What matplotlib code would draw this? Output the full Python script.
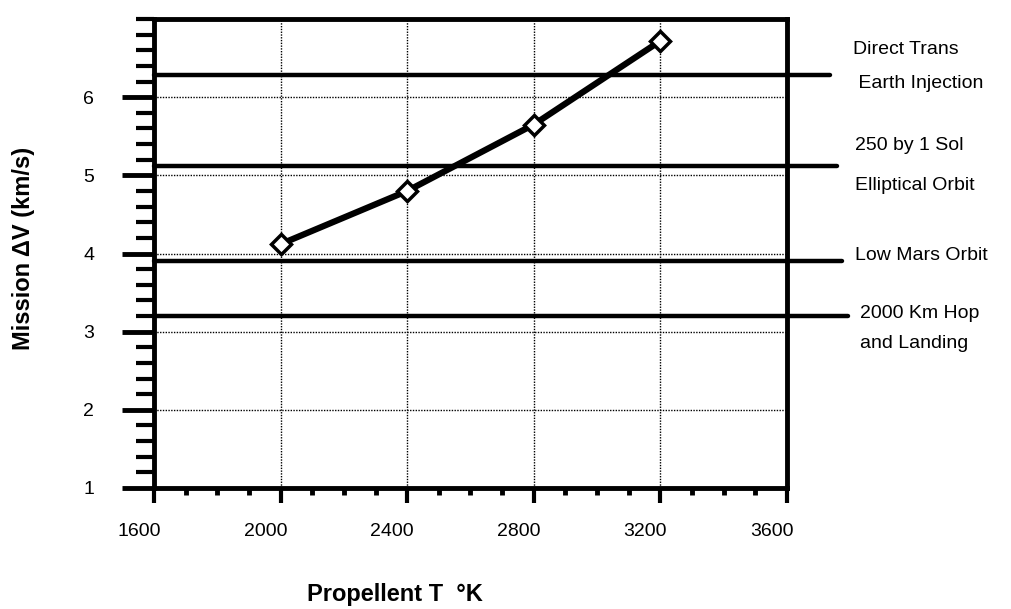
import matplotlib
matplotlib.use("Agg")
import matplotlib.pyplot as plt
from matplotlib.ticker import MultipleLocator
from matplotlib.transforms import ScaledTranslation

plt.rcParams['font.family'] = ['Liberation Sans', 'DejaVu Sans']

temps = [2000, 2400, 2800, 3200]
delta_v = [4.12, 4.80, 5.65, 6.72]

ref_values = [6.28, 5.12, 3.90, 3.20]
ref_labels = ["Direct Trans\n Earth Injection", "250 by 1 Sol\nElliptical Orbit",
              "Low Mars Orbit", "2000 Km Hop\nand Landing"]
ref_ends = [3735, 3757, 3773, 3792]

x_ticks = [1600, 2000, 2400, 2800, 3200, 3600]
y_ticks = [1, 2, 3, 4, 5, 6]

fig = plt.figure(figsize=(10.11, 6.09), dpi=100)
ax = fig.add_axes([154/1011, 1-488/609, (787-154)/1011, (488-19)/609])
ax.set_xlim(1600, 3600)
ax.set_ylim(1, 7)

ax.grid(True, which='major', color='black', linestyle=(0, (1, 1)), linewidth=1.0)
ax.set_axisbelow(True)

for v, end in zip(ref_values, ref_ends):
    ax.plot([1600, end], [v, v], color='black', linewidth=3.2, clip_on=False,
            solid_capstyle='round', zorder=3)

ax.plot(temps, delta_v, color='black', linewidth=4.5, zorder=4, marker='D',
        markersize=10, markerfacecolor='white', markeredgecolor='black',
        markeredgewidth=2.5)

label_pos = [(853, 50, 83), (855, 146, 185), (855, 256, None), (860, 313, 344)]
for (lbl, (px, py1, py2)) in zip(ref_labels, label_pos):
    lines = lbl.split("\n")
    fig.text(px/1011, 1-py1/609, lines[0], fontsize=14, ha='left', va='center')
    if py2 is not None:
        fig.text(px/1011, 1-py2/609, lines[1], fontsize=14, ha='left', va='center')

ax.set_xticks(x_ticks)
ax.set_yticks(y_ticks)
ax.xaxis.set_minor_locator(MultipleLocator(100))
ax.yaxis.set_minor_locator(MultipleLocator(0.2))
ax.tick_params(axis='x', which='major', direction='out', length=11, width=3,
               labelsize=14, pad=14)
ax.tick_params(axis='x', which='minor', direction='out', length=5, width=3.5)
ax.tick_params(axis='y', which='major', direction='out', length=23, width=3.5,
               labelsize=14, pad=20)
ax.tick_params(axis='y', which='minor', direction='out', length=13, width=3)
for s in ax.spines.values():
    s.set_linewidth(3.5)

offset = ScaledTranslation(-15/100, 0, fig.dpi_scale_trans)
for lab in ax.get_xticklabels():
    lab.set_transform(lab.get_transform() + offset)

fig.text(24/1011, 1-248/609, "Mission \u0394V (km/s)", rotation=90, fontsize=17,
         fontweight='bold', ha='center', va='center')
fig.text(395/1011, 1-594/609, "Propellent T  \u00b0K", fontsize=17,
         fontweight='bold', ha='center', va='center')

fig.savefig("out.png", dpi=100, facecolor='white')
